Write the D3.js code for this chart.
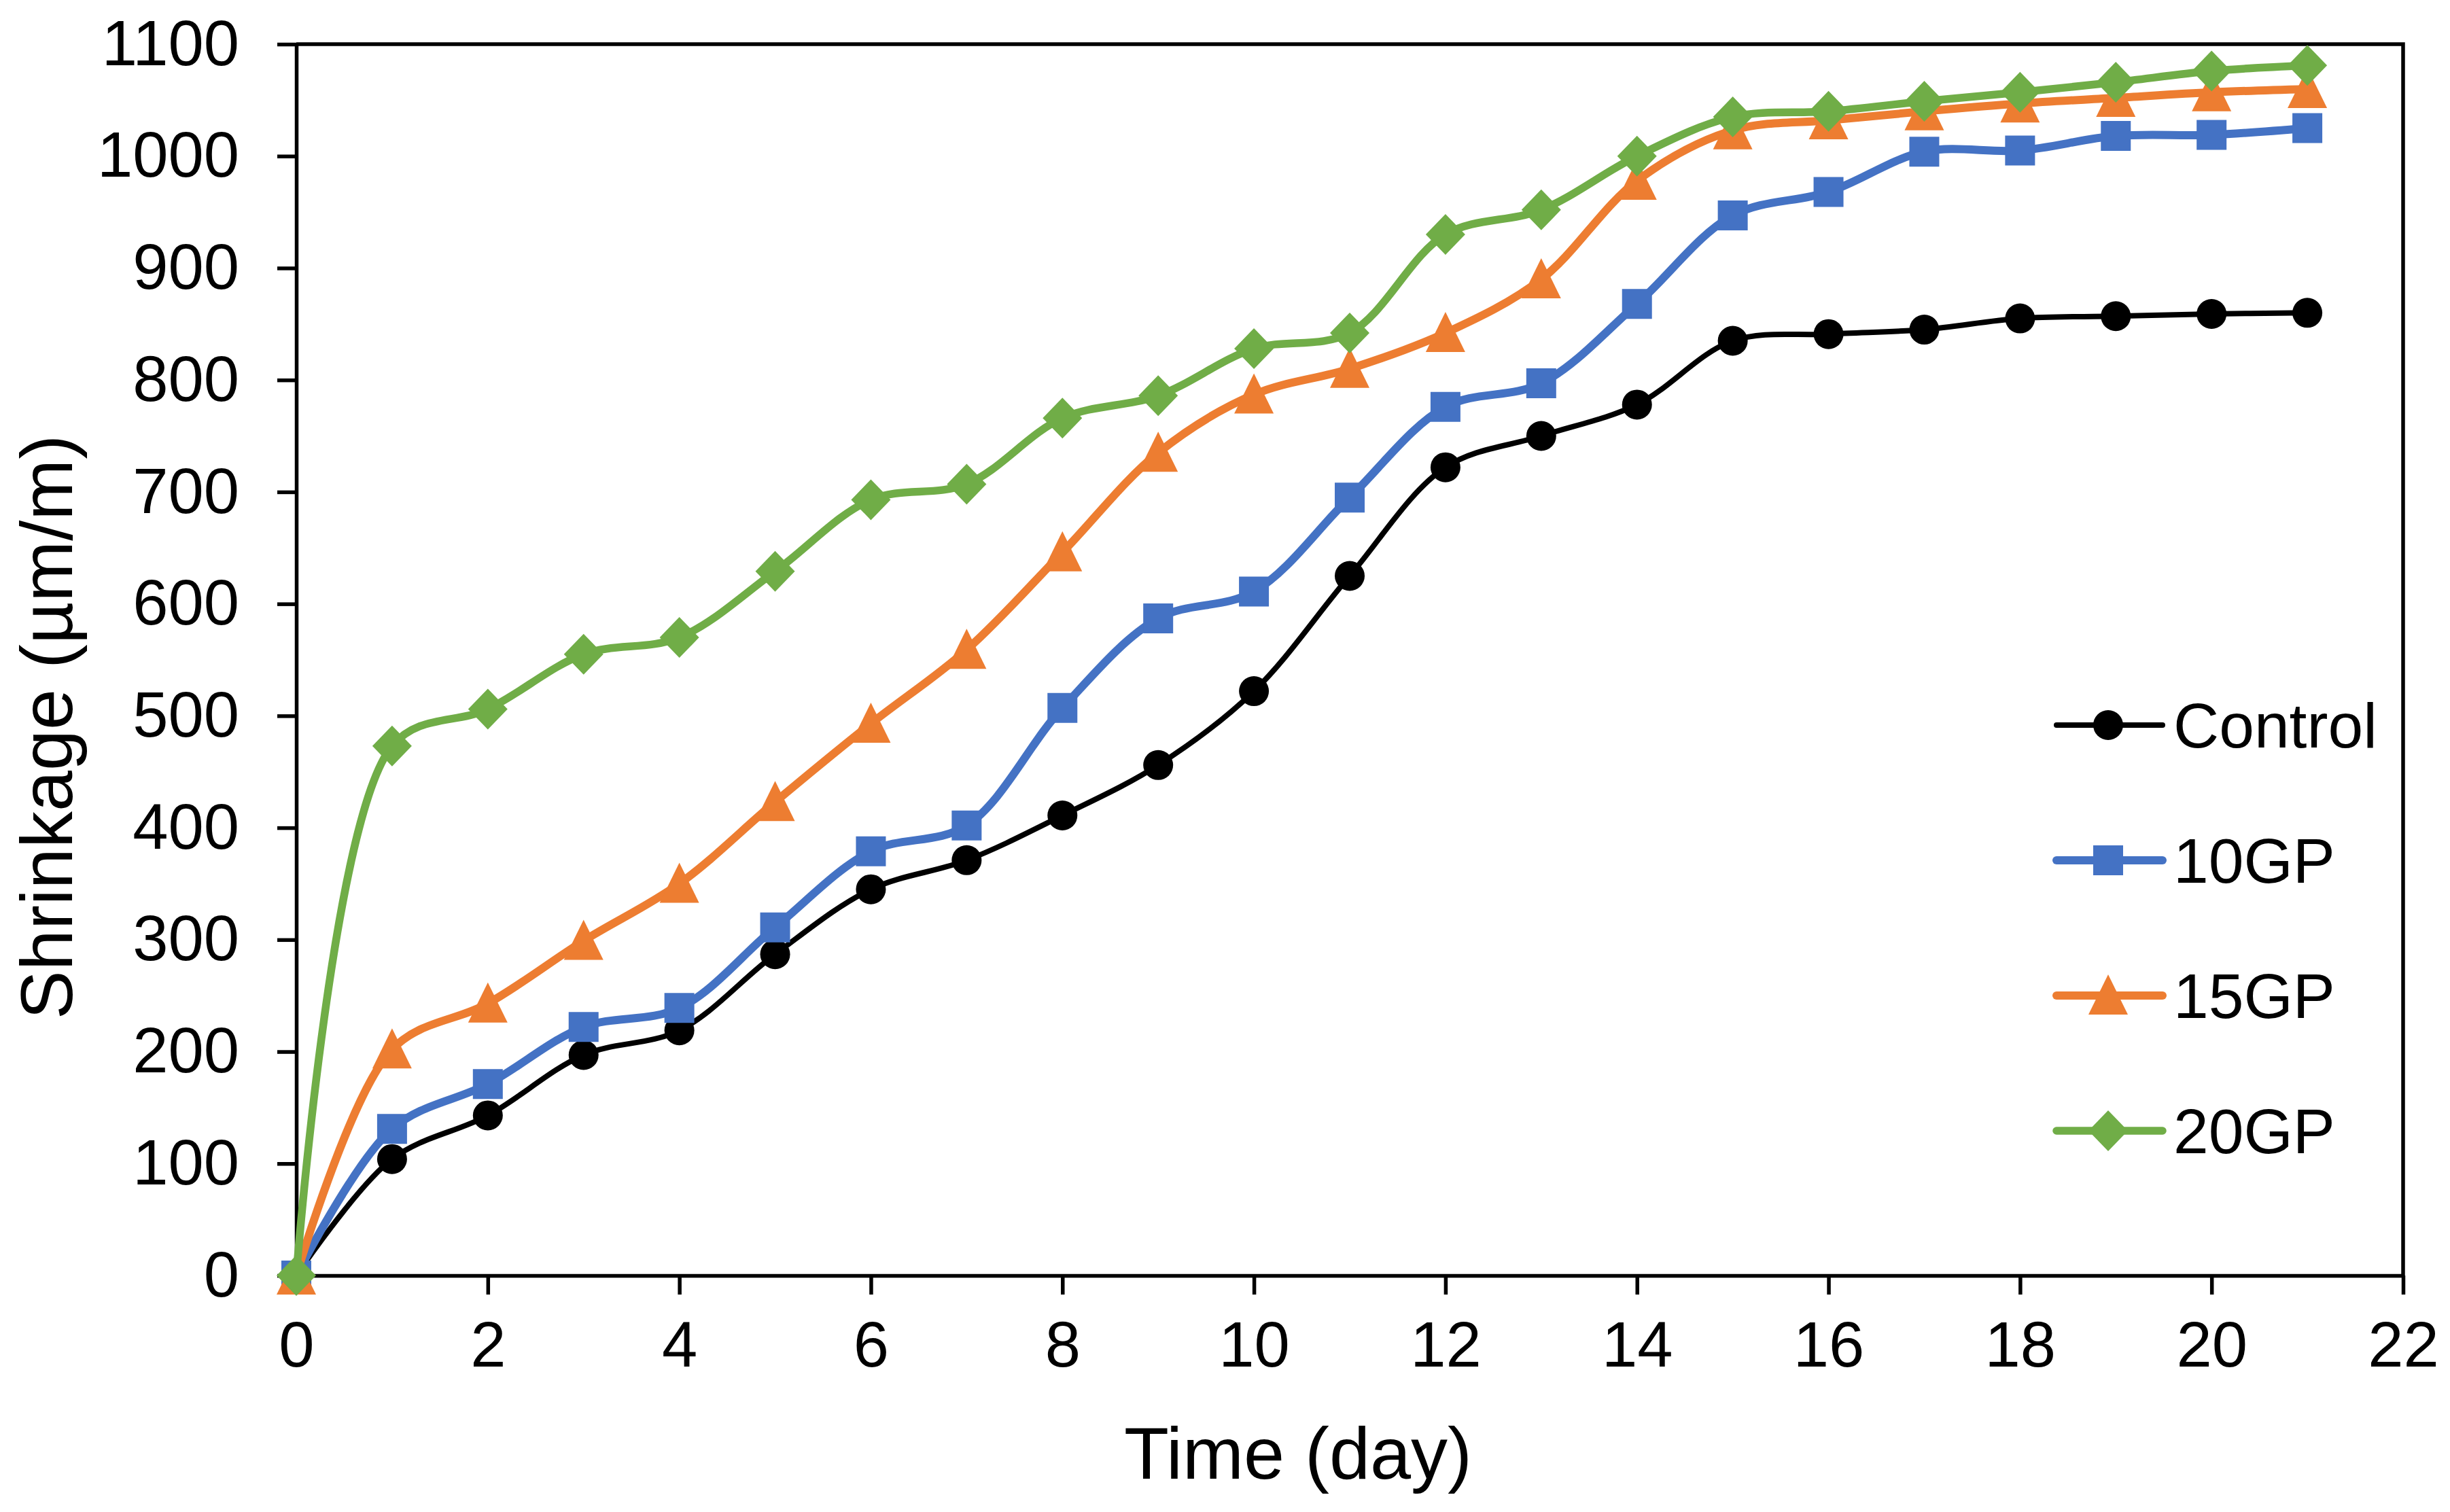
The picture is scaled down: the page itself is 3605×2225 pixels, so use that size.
<!DOCTYPE html>
<html>
<head>
<meta charset="utf-8">
<script src="https://cdn.jsdelivr.net/npm/d3@7"></script>
<style>
  body { margin: 0; background: #fff; }
  text { font-family: "Liberation Sans", Arial, sans-serif; fill: #000; }
</style>
</head>
<body>
<div id="container"></div>
<script>
// data
var days = [0,1,2,3,4,5,6,7,8,9,10,11,12,13,14,15,16,17,18,19,20,21];
var control = [0,104,143,197,219,287,345,371,411,456,522,625,722,750,778,835,841,845,855,857,859,860];
var gp10 = [0,131,171,222,239,311,379,402,507,587,611,695,776,797,868,947,968,1004,1005,1018,1019,1025];
var gp15 = [0,202,243,299,350,423,493,559,646,735,787,810,842,890,978,1023,1032,1040,1047,1052,1057,1060];
var gp20 = [0,473,506,555,570,629,693,707,766,786,828,842,930,952,1000,1035,1040,1049,1057,1066,1076,1081];
var seriesNames = ["Control", "10GP", "15GP", "20GP"];
var seriesColors = ["#000000", "#4472C4", "#ED7D31", "#70AD47"];
var xTicks = [0,2,4,6,8,10,12,14,16,18,20,22];
var yTicks = [0,100,200,300,400,500,600,700,800,900,1000,1100];

var width = 3605, height = 2225;
var margin = { left: 436, right: 69, top: 65, bottom: 348 };
var plotW = width - margin.left - margin.right;
var plotH = height - margin.top - margin.bottom;

var svg = d3.select('#container')
  .append('svg')
  .attr('width', width)
  .attr('height', height);

var g = svg.append('g')
  .attr('transform', `translate(${margin.left},${margin.top})`);

var x = d3.scaleLinear().domain([0, 22]).range([0, plotW]);
var y = d3.scaleLinear().domain([0, 1100]).range([plotH, 0]);

// frame (top + right)
g.append('path')
  .attr('d', `M0,0H${plotW}V${plotH}`)
  .attr('fill', 'none')
  .attr('stroke', '#000')
  .attr('stroke-width', 5.5);

// axes
var xAxis = g.append('g')
  .attr('transform', `translate(0,${plotH})`)
  .call(d3.axisBottom(x).tickValues(xTicks).tickFormat(d3.format('d'))
    .tickSize(28).tickPadding(38).tickSizeOuter(0));
var yAxis = g.append('g')
  .call(d3.axisLeft(y).tickValues(yTicks).tickFormat(d3.format('d'))
    .tickSize(28).tickPadding(56).tickSizeOuter(0));

[xAxis, yAxis].forEach(a => {
  a.select('.domain').attr('stroke-width', 5.5);
  a.selectAll('.tick line').attr('stroke-width', 5.5);
  a.selectAll('.tick text')
    .attr('font-size', 94)
    .attr('font-family', '"Liberation Sans", Arial, sans-serif');
});
xAxis.selectAll('.tick text').attr('dy', '0.72em');

// series
var allSeries = [control, gp10, gp15, gp20];
var lineWidths = [8, 12, 12, 11.5];
var line = d3.line()
  .x((d, i) => x(days[i]))
  .y(d => y(d))
  .curve(d3.curveCatmullRom.alpha(0.5));

var symbols = [
  d3.symbol().type(d3.symbolCircle).size(Math.PI * 22 * 22),
  d3.symbol().type(d3.symbolSquare).size(44 * 44),
  null,
  null
];
function markerPath(k) {
  if (k == 2) return 'M0,-31L29,28L-29,28Z';
  if (k == 3) return 'M0,-30L29,0L0,30L-29,0Z';
  return symbols[k]();
}

allSeries.forEach((vals, k) => {
  var sg = g.append('g');
  sg.append('path')
    .datum(vals)
    .attr('d', line)
    .attr('fill', 'none')
    .attr('stroke', seriesColors[k])
    .attr('stroke-width', lineWidths[k])
    .attr('stroke-linejoin', 'round');
  sg.selectAll('path.mk')
    .data(vals)
    .join('path')
    .attr('class', 'mk')
    .attr('d', markerPath(k))
    .attr('transform', (d, i) => `translate(${x(days[i])},${y(d)})`)
    .attr('fill', seriesColors[k]);
});

// legend
var legendY = [1067, 1266, 1465, 1664];
var legend = svg.append('g');
seriesNames.forEach((name, k) => {
  var lg = legend.append('g').attr('transform', `translate(3102,${legendY[k]})`);
  lg.append('line')
    .attr('x1', -76).attr('x2', 80)
    .attr('stroke', seriesColors[k])
    .attr('stroke-width', lineWidths[k])
    .attr('stroke-linecap', 'round');
  lg.append('path')
    .attr('d', markerPath(k))
    .attr('fill', seriesColors[k]);
  lg.append('text')
    .attr('x', 96)
    .attr('y', 0)
    .attr('dy', '0.36em')
    .attr('font-size', 93)
    .text(name);
});

// axis titles
svg.append('text')
  .attr('x', 1910)
  .attr('y', 2176)
  .attr('text-anchor', 'middle')
  .attr('font-size', 108)
  .text('Time (day)');

svg.append('text')
  .attr('transform', 'translate(106,1070) rotate(-90)')
  .attr('text-anchor', 'middle')
  .attr('font-size', 108)
  .text('Shrinkage (µm/m)');
</script>
</body>
</html>
